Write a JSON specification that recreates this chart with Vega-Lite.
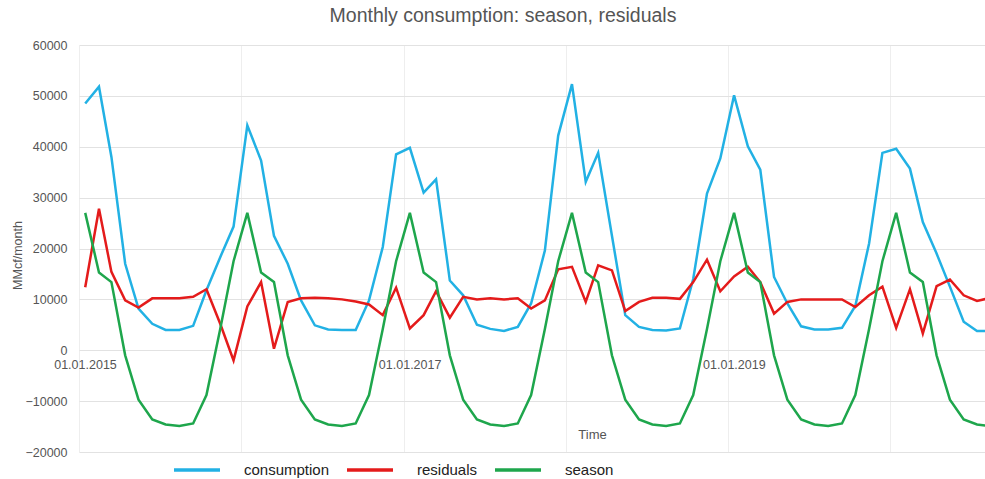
{
  "$schema": "https://vega.github.io/schema/vega-lite/v6.json",
  "width": 906,
  "height": 407,
  "autosize": {"type": "none"},
  "padding": {"left": 79, "top": 45, "right": 0, "bottom": 27},
  "background": "white",
  "config": {"view": {"stroke": null}, "font": "Liberation Sans"},
  "title": {
    "text": "Monthly consumption: season, residuals",
    "fontSize": 19.5,
    "fontWeight": "normal",
    "color": "#555555",
    "anchor": "middle",
    "frame": "group",
    "dx": -29,
    "offset": 13
  },
  "data": {
    "values": [
      {"date": "2015-01-15", "consumption": 48500, "residuals": 12400, "season": 27000},
      {"date": "2015-02-15", "consumption": 51800, "residuals": 27800, "season": 15300},
      {"date": "2015-03-15", "consumption": 38000, "residuals": 15400, "season": 13400},
      {"date": "2015-04-15", "consumption": 17000, "residuals": 9800, "season": -1000},
      {"date": "2015-05-15", "consumption": 8200, "residuals": 8400, "season": -9700},
      {"date": "2015-06-15", "consumption": 5200, "residuals": 10200, "season": -13600},
      {"date": "2015-07-15", "consumption": 4000, "residuals": 10200, "season": -14600},
      {"date": "2015-08-15", "consumption": 4000, "residuals": 10200, "season": -14900},
      {"date": "2015-09-15", "consumption": 4800, "residuals": 10500, "season": -14400},
      {"date": "2015-10-15", "consumption": 11800, "residuals": 12000, "season": -8800},
      {"date": "2015-11-15", "consumption": 18300, "residuals": 5200, "season": 4200},
      {"date": "2015-12-15", "consumption": 24300, "residuals": -2000, "season": 17500},
      {"date": "2016-01-15", "consumption": 44200, "residuals": 8600, "season": 27000},
      {"date": "2016-02-15", "consumption": 37300, "residuals": 13400, "season": 15300},
      {"date": "2016-03-15", "consumption": 22500, "residuals": 300, "season": 13400},
      {"date": "2016-04-15", "consumption": 17000, "residuals": 9500, "season": -1000},
      {"date": "2016-05-15", "consumption": 9800, "residuals": 10200, "season": -9700},
      {"date": "2016-06-15", "consumption": 4900, "residuals": 10300, "season": -13600},
      {"date": "2016-07-15", "consumption": 4100, "residuals": 10200, "season": -14600},
      {"date": "2016-08-15", "consumption": 4000, "residuals": 10000, "season": -14900},
      {"date": "2016-09-15", "consumption": 4000, "residuals": 9600, "season": -14400},
      {"date": "2016-10-15", "consumption": 9800, "residuals": 9000, "season": -8800},
      {"date": "2016-11-15", "consumption": 20300, "residuals": 6900, "season": 4200},
      {"date": "2016-12-15", "consumption": 38500, "residuals": 12300, "season": 17500},
      {"date": "2017-01-15", "consumption": 39800, "residuals": 4300, "season": 27000},
      {"date": "2017-02-15", "consumption": 31000, "residuals": 6900, "season": 15300},
      {"date": "2017-03-15", "consumption": 33600, "residuals": 11600, "season": 13400},
      {"date": "2017-04-15", "consumption": 13700, "residuals": 6400, "season": -1000},
      {"date": "2017-05-15", "consumption": 10800, "residuals": 10500, "season": -9700},
      {"date": "2017-06-15", "consumption": 5000, "residuals": 10000, "season": -13600},
      {"date": "2017-07-15", "consumption": 4200, "residuals": 10200, "season": -14600},
      {"date": "2017-08-15", "consumption": 3800, "residuals": 10000, "season": -14900},
      {"date": "2017-09-15", "consumption": 4600, "residuals": 10200, "season": -14400},
      {"date": "2017-10-15", "consumption": 9200, "residuals": 8200, "season": -8800},
      {"date": "2017-11-15", "consumption": 19600, "residuals": 9800, "season": 4200},
      {"date": "2017-12-15", "consumption": 42200, "residuals": 15900, "season": 17500},
      {"date": "2018-01-15", "consumption": 52300, "residuals": 16400, "season": 27000},
      {"date": "2018-02-15", "consumption": 33100, "residuals": 9500, "season": 15300},
      {"date": "2018-03-15", "consumption": 38800, "residuals": 16700, "season": 13400},
      {"date": "2018-04-15", "consumption": 22500, "residuals": 15700, "season": -1000},
      {"date": "2018-05-15", "consumption": 6900, "residuals": 7700, "season": -9700},
      {"date": "2018-06-15", "consumption": 4600, "residuals": 9500, "season": -13600},
      {"date": "2018-07-15", "consumption": 4000, "residuals": 10300, "season": -14600},
      {"date": "2018-08-15", "consumption": 3900, "residuals": 10300, "season": -14900},
      {"date": "2018-09-15", "consumption": 4300, "residuals": 10100, "season": -14400},
      {"date": "2018-10-15", "consumption": 14000, "residuals": 13400, "season": -8800},
      {"date": "2018-11-15", "consumption": 30800, "residuals": 17800, "season": 4200},
      {"date": "2018-12-15", "consumption": 37700, "residuals": 11600, "season": 17500},
      {"date": "2019-01-15", "consumption": 50100, "residuals": 14500, "season": 27000},
      {"date": "2019-02-15", "consumption": 40100, "residuals": 16400, "season": 15300},
      {"date": "2019-03-15", "consumption": 35500, "residuals": 13400, "season": 13400},
      {"date": "2019-04-15", "consumption": 14400, "residuals": 7200, "season": -1000},
      {"date": "2019-05-15", "consumption": 9200, "residuals": 9500, "season": -9700},
      {"date": "2019-06-15", "consumption": 4700, "residuals": 10000, "season": -13600},
      {"date": "2019-07-15", "consumption": 4100, "residuals": 10000, "season": -14600},
      {"date": "2019-08-15", "consumption": 4100, "residuals": 10000, "season": -14900},
      {"date": "2019-09-15", "consumption": 4400, "residuals": 10000, "season": -14400},
      {"date": "2019-10-15", "consumption": 8700, "residuals": 8500, "season": -8800},
      {"date": "2019-11-15", "consumption": 21000, "residuals": 10800, "season": 4200},
      {"date": "2019-12-15", "consumption": 38800, "residuals": 12500, "season": 17500},
      {"date": "2020-01-15", "consumption": 39600, "residuals": 4400, "season": 27000},
      {"date": "2020-02-15", "consumption": 35700, "residuals": 12000, "season": 15300},
      {"date": "2020-03-15", "consumption": 25200, "residuals": 3300, "season": 13400},
      {"date": "2020-04-15", "consumption": 19000, "residuals": 12600, "season": -1000},
      {"date": "2020-05-15", "consumption": 12500, "residuals": 13900, "season": -9700},
      {"date": "2020-06-15", "consumption": 5600, "residuals": 10800, "season": -13600},
      {"date": "2020-07-15", "consumption": 3800, "residuals": 9700, "season": -14600},
      {"date": "2020-08-15", "consumption": 3800, "residuals": 10300, "season": -14900}
    ]
  },
  "transform": [
    {"fold": ["consumption", "residuals", "season"], "as": ["series", "value"]}
  ],
  "mark": {"type": "line", "strokeWidth": 2.5, "clip": true},
  "encoding": {
    "x": {
      "field": "date",
      "type": "temporal",
      "scale": {
        "type": "utc",
        "domain": [
          {"year": 2015, "month": 1, "date": 1, "utc": true},
          {"year": 2020, "month": 8, "date": 2, "utc": true}
        ]
      },
      "axis": {
        "values": [
          {"year": 2015, "month": 1, "date": 1, "utc": true},
          {"year": 2016, "month": 1, "date": 1, "utc": true},
          {"year": 2017, "month": 1, "date": 1, "utc": true},
          {"year": 2018, "month": 1, "date": 1, "utc": true},
          {"year": 2019, "month": 1, "date": 1, "utc": true},
          {"year": 2020, "month": 1, "date": 1, "utc": true}
        ],
        "labelExpr": "utcyear(datum.value) % 2 == 1 ? utcFormat(datum.value, '%d.%m.%Y') : ''",
        "offset": -102,
        "domain": false,
        "ticks": false,
        "grid": true,
        "gridColor": "#eeeeee",
        "labelColor": "#555555",
        "labelFontSize": 12.5,
        "labelPadding": 8,
        "labelOffset": 6,
        "labelFlush": false,
        "labelOverlap": false,
        "title": "Time",
        "titleColor": "#555555",
        "titleFontSize": 13,
        "titleFontWeight": "normal",
        "titleX": 513,
        "titleY": 84,
        "titleBaseline": "middle"
      }
    },
    "y": {
      "field": "value",
      "type": "quantitative",
      "scale": {"domain": [-20000, 60000], "nice": false},
      "axis": {
        "values": [-20000, -10000, 0, 10000, 20000, 30000, 40000, 50000, 60000],
        "format": "d",
        "domain": false,
        "ticks": false,
        "gridColor": "#e2e2e2",
        "labelColor": "#555555",
        "labelFontSize": 12.5,
        "labelPadding": 12,
        "title": "MMcf/month",
        "titleColor": "#555555",
        "titleFontSize": 12.5,
        "titleFontWeight": "normal",
        "titleX": -62,
        "titleY": 210,
        "titleBaseline": "middle",
        "titleAngle": -90
      }
    },
    "color": {
      "field": "series",
      "type": "nominal",
      "scale": {
        "domain": ["consumption", "residuals", "season"],
        "range": ["#22B1E4", "#E41B1B", "#1EA64C"]
      },
      "legend": {
        "orient": "none",
        "legendX": 93,
        "legendY": 400,
        "direction": "horizontal",
        "title": null,
        "symbolType": "stroke",
        "symbolSize": 2116,
        "symbolStrokeWidth": 3.5,
        "labelFontSize": 15,
        "labelColor": "#222222",
        "labelOffset": 22,
        "columnPadding": 10,
        "padding": 0
      }
    }
  }
}
